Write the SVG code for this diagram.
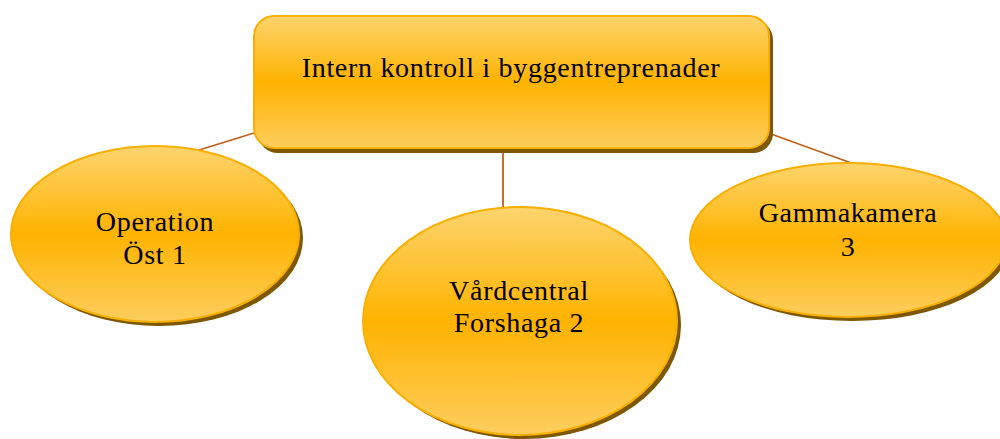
<svg xmlns="http://www.w3.org/2000/svg" width="1000" height="439" viewBox="0 0 1000 439">
<defs>
<linearGradient id="g" x1="0" y1="0" x2="0" y2="1">
<stop offset="0" stop-color="#FDD46E"/>
<stop offset="0.5" stop-color="#FFB300"/>
<stop offset="1" stop-color="#FDCD5E"/>
</linearGradient>
<style>
.sh{fill:#7D5800}
.nd{fill:url(#g);stroke:#F7AF00;stroke-width:2}
.t{font-family:"Liberation Serif","DejaVu Serif",serif;font-size:28px;letter-spacing:0.7px;fill:#000;text-anchor:middle}
.c{stroke:#C0601A;stroke-width:1.8;fill:none}
</style>
</defs>
<rect width="1000" height="439" fill="#fff"/>
<g id="connectors">
<line class="c" x1="254" y1="133" x2="196" y2="151"/>
<line class="c" x1="503" y1="150" x2="503" y2="208"/>
<line class="c" x1="771" y1="134" x2="854" y2="164"/>
</g>
<g id="root">
<rect class="sh" x="258" y="20" width="515" height="133" rx="20"/>
<rect class="nd" x="254" y="16" width="515" height="132" rx="20"/>
<text class="t" x="511" y="77">Intern kontroll i byggentreprenader</text>
</g>
<g id="n1">
<ellipse class="sh" cx="159" cy="238" rx="144" ry="88"/>
<ellipse class="nd" cx="155" cy="234" rx="144" ry="88"/>
<text class="t" x="155" y="231">Operation</text>
<text class="t" x="155" y="264">Öst 1</text>
</g>
<g id="n2">
<ellipse class="sh" cx="524" cy="325" rx="157" ry="114"/>
<ellipse class="nd" cx="520" cy="321" rx="157" ry="114"/>
<text class="t" x="519" y="300">Vårdcentral</text>
<text class="t" x="519" y="332">Forshaga 2</text>
</g>
<g id="n3">
<ellipse class="sh" cx="852" cy="244" rx="158" ry="77"/>
<ellipse class="nd" cx="848" cy="240" rx="158" ry="77"/>
<text class="t" x="848" y="222">Gammakamera</text>
<text class="t" x="848" y="256">3</text>
</g>
</svg>
